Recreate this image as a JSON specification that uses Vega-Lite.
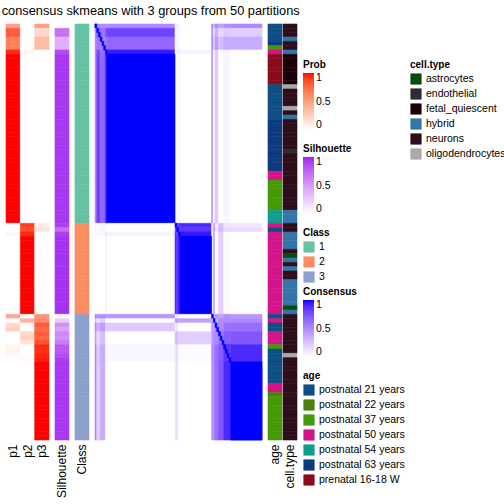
{
"$schema": "https://vega.github.io/schema/vega-lite/v6.json",
"background": "white",
"padding": {"left": 1, "top": 4, "right": 0, "bottom": 0},
"bounds": "flush",
"spacing": 6,
"title": {"text": "consensus skmeans with 3 groups from 50 partitions", "anchor": "start", "dx": -4, "fontSize": 12.8, "fontWeight": "normal", "font": "Liberation Sans", "color": "black", "offset": 6},
"config": {
 "font": "Liberation Sans",
 "view": {"stroke": null},
 "mark": {"strokeWidth": 0.6},
 "axis": {"domain": false, "ticks": false, "tickSize": 0, "grid": false, "labelFontSize": 12, "labelColor": "black", "labelPadding": 4, "labelAngle": -90, "labelFont": "Liberation Sans"},
 "legend": {"labelFont": "Liberation Sans", "titleFont": "Liberation Sans", "labelColor": "black", "titleColor": "black", "titleFontWeight": "bold", "titleFontSize": 10, "labelFontSize": 10.5, "gradientStrokeWidth": 0, "padding": 0, "symbolType": "square", "symbolSize": 110, "symbolStrokeColor": "#cccccc", "symbolStrokeWidth": 1, "rowPadding": 1, "labelOffset": 4, "titlePadding": 3, "gradientLength": 57, "gradientThickness": 11, "labelLimit": 200}
},
"datasets": {
"samples": [
{"i":0,"p1":0.5,"p2":0,"p3":0.5,"Silhouette":0,"Class":"1","age":"postnatal 21 years","celltype":"neurons"},
{"i":1,"p1":0.8,"p2":0,"p3":0.2,"Silhouette":0.7,"Class":"1","age":"postnatal 21 years","celltype":"neurons"},
{"i":2,"p1":0.8,"p2":0,"p3":0.2,"Silhouette":0.7,"Class":"1","age":"postnatal 21 years","celltype":"neurons"},
{"i":3,"p1":0.65,"p2":0,"p3":0.35,"Silhouette":0.4,"Class":"1","age":"postnatal 21 years","celltype":"hybrid"},
{"i":4,"p1":0.65,"p2":0,"p3":0.35,"Silhouette":0.4,"Class":"1","age":"postnatal 63 years","celltype":"neurons"},
{"i":5,"p1":0.65,"p2":0,"p3":0.35,"Silhouette":0.4,"Class":"1","age":"postnatal 37 years","celltype":"neurons"},
{"i":6,"p1":0.95,"p2":0.05,"p3":0,"Silhouette":0.85,"Class":"1","age":"postnatal 50 years","celltype":"hybrid"},
{"i":7,"p1":1,"p2":0,"p3":0,"Silhouette":0.93,"Class":"1","age":"prenatal 16-18 W","celltype":"fetal_quiescent"},
{"i":8,"p1":1,"p2":0,"p3":0,"Silhouette":0.93,"Class":"1","age":"prenatal 16-18 W","celltype":"fetal_quiescent"},
{"i":9,"p1":1,"p2":0,"p3":0,"Silhouette":0.93,"Class":"1","age":"prenatal 16-18 W","celltype":"fetal_quiescent"},
{"i":10,"p1":1,"p2":0,"p3":0,"Silhouette":0.93,"Class":"1","age":"prenatal 16-18 W","celltype":"fetal_quiescent"},
{"i":11,"p1":1,"p2":0,"p3":0,"Silhouette":0.93,"Class":"1","age":"prenatal 16-18 W","celltype":"fetal_quiescent"},
{"i":12,"p1":1,"p2":0,"p3":0,"Silhouette":0.93,"Class":"1","age":"prenatal 16-18 W","celltype":"fetal_quiescent"},
{"i":13,"p1":1,"p2":0,"p3":0,"Silhouette":0.93,"Class":"1","age":"prenatal 16-18 W","celltype":"fetal_quiescent"},
{"i":14,"p1":1,"p2":0,"p3":0,"Silhouette":0.93,"Class":"1","age":"postnatal 21 years","celltype":"oligodendrocytes"},
{"i":15,"p1":1,"p2":0,"p3":0,"Silhouette":0.93,"Class":"1","age":"postnatal 21 years","celltype":"neurons"},
{"i":16,"p1":1,"p2":0,"p3":0,"Silhouette":0.93,"Class":"1","age":"postnatal 21 years","celltype":"neurons"},
{"i":17,"p1":1,"p2":0,"p3":0,"Silhouette":0.93,"Class":"1","age":"postnatal 21 years","celltype":"neurons"},
{"i":18,"p1":1,"p2":0,"p3":0,"Silhouette":0.93,"Class":"1","age":"postnatal 21 years","celltype":"neurons"},
{"i":19,"p1":1,"p2":0,"p3":0,"Silhouette":0.93,"Class":"1","age":"postnatal 21 years","celltype":"oligodendrocytes"},
{"i":20,"p1":1,"p2":0,"p3":0,"Silhouette":0.93,"Class":"1","age":"postnatal 21 years","celltype":"neurons"},
{"i":21,"p1":1,"p2":0,"p3":0,"Silhouette":0.93,"Class":"1","age":"postnatal 21 years","celltype":"hybrid"},
{"i":22,"p1":1,"p2":0,"p3":0,"Silhouette":0.93,"Class":"1","age":"postnatal 63 years","celltype":"neurons"},
{"i":23,"p1":1,"p2":0,"p3":0,"Silhouette":0.93,"Class":"1","age":"postnatal 63 years","celltype":"neurons"},
{"i":24,"p1":1,"p2":0,"p3":0,"Silhouette":0.93,"Class":"1","age":"postnatal 63 years","celltype":"neurons"},
{"i":25,"p1":1,"p2":0,"p3":0,"Silhouette":0.93,"Class":"1","age":"postnatal 63 years","celltype":"neurons"},
{"i":26,"p1":1,"p2":0,"p3":0,"Silhouette":0.93,"Class":"1","age":"postnatal 63 years","celltype":"neurons"},
{"i":27,"p1":1,"p2":0,"p3":0,"Silhouette":0.93,"Class":"1","age":"postnatal 63 years","celltype":"neurons"},
{"i":28,"p1":1,"p2":0,"p3":0,"Silhouette":0.93,"Class":"1","age":"postnatal 63 years","celltype":"neurons"},
{"i":29,"p1":1,"p2":0,"p3":0,"Silhouette":0.93,"Class":"1","age":"postnatal 63 years","celltype":"endothelial"},
{"i":30,"p1":1,"p2":0,"p3":0,"Silhouette":0.93,"Class":"1","age":"postnatal 63 years","celltype":"neurons"},
{"i":31,"p1":1,"p2":0,"p3":0,"Silhouette":0.93,"Class":"1","age":"postnatal 63 years","celltype":"neurons"},
{"i":32,"p1":1,"p2":0,"p3":0,"Silhouette":0.93,"Class":"1","age":"postnatal 63 years","celltype":"neurons"},
{"i":33,"p1":1,"p2":0,"p3":0,"Silhouette":0.93,"Class":"1","age":"postnatal 63 years","celltype":"neurons"},
{"i":34,"p1":1,"p2":0,"p3":0,"Silhouette":0.93,"Class":"1","age":"postnatal 50 years","celltype":"neurons"},
{"i":35,"p1":1,"p2":0,"p3":0,"Silhouette":0.93,"Class":"1","age":"postnatal 50 years","celltype":"neurons"},
{"i":36,"p1":1,"p2":0,"p3":0,"Silhouette":0.93,"Class":"1","age":"postnatal 37 years","celltype":"neurons"},
{"i":37,"p1":1,"p2":0,"p3":0,"Silhouette":0.93,"Class":"1","age":"postnatal 37 years","celltype":"neurons"},
{"i":38,"p1":1,"p2":0,"p3":0,"Silhouette":0.93,"Class":"1","age":"postnatal 37 years","celltype":"neurons"},
{"i":39,"p1":1,"p2":0,"p3":0,"Silhouette":0.93,"Class":"1","age":"postnatal 37 years","celltype":"neurons"},
{"i":40,"p1":1,"p2":0,"p3":0,"Silhouette":0.93,"Class":"1","age":"postnatal 37 years","celltype":"neurons"},
{"i":41,"p1":1,"p2":0,"p3":0,"Silhouette":0.93,"Class":"1","age":"postnatal 37 years","celltype":"neurons"},
{"i":42,"p1":1,"p2":0,"p3":0,"Silhouette":0.93,"Class":"1","age":"postnatal 37 years","celltype":"neurons"},
{"i":43,"p1":1,"p2":0,"p3":0,"Silhouette":0.93,"Class":"1","age":"postnatal 54 years","celltype":"hybrid"},
{"i":44,"p1":1,"p2":0,"p3":0,"Silhouette":0.93,"Class":"1","age":"postnatal 54 years","celltype":"hybrid"},
{"i":45,"p1":1,"p2":0,"p3":0,"Silhouette":0.93,"Class":"1","age":"postnatal 54 years","celltype":"hybrid"},
{"i":46,"p1":0,"p2":0.9,"p3":0.1,"Silhouette":0.9,"Class":"2","age":"postnatal 50 years","celltype":"neurons"},
{"i":47,"p1":0,"p2":0.85,"p3":0.15,"Silhouette":0.7,"Class":"2","age":"postnatal 21 years","celltype":"neurons"},
{"i":48,"p1":0.05,"p2":0.95,"p3":0,"Silhouette":0.9,"Class":"2","age":"postnatal 50 years","celltype":"hybrid"},
{"i":49,"p1":0,"p2":1,"p3":0,"Silhouette":0.95,"Class":"2","age":"postnatal 50 years","celltype":"hybrid"},
{"i":50,"p1":0,"p2":1,"p3":0,"Silhouette":0.95,"Class":"2","age":"postnatal 50 years","celltype":"hybrid"},
{"i":51,"p1":0,"p2":1,"p3":0,"Silhouette":0.95,"Class":"2","age":"postnatal 50 years","celltype":"hybrid"},
{"i":52,"p1":0,"p2":1,"p3":0,"Silhouette":0.95,"Class":"2","age":"postnatal 50 years","celltype":"neurons"},
{"i":53,"p1":0,"p2":1,"p3":0,"Silhouette":0.95,"Class":"2","age":"postnatal 50 years","celltype":"astrocytes"},
{"i":54,"p1":0,"p2":1,"p3":0,"Silhouette":0.95,"Class":"2","age":"postnatal 50 years","celltype":"hybrid"},
{"i":55,"p1":0,"p2":1,"p3":0,"Silhouette":0.95,"Class":"2","age":"postnatal 50 years","celltype":"neurons"},
{"i":56,"p1":0,"p2":1,"p3":0,"Silhouette":0.95,"Class":"2","age":"postnatal 50 years","celltype":"hybrid"},
{"i":57,"p1":0,"p2":1,"p3":0,"Silhouette":0.95,"Class":"2","age":"postnatal 50 years","celltype":"neurons"},
{"i":58,"p1":0,"p2":1,"p3":0,"Silhouette":0.95,"Class":"2","age":"postnatal 50 years","celltype":"neurons"},
{"i":59,"p1":0,"p2":1,"p3":0,"Silhouette":0.95,"Class":"2","age":"postnatal 50 years","celltype":"hybrid"},
{"i":60,"p1":0,"p2":1,"p3":0,"Silhouette":0.95,"Class":"2","age":"postnatal 50 years","celltype":"hybrid"},
{"i":61,"p1":0,"p2":1,"p3":0,"Silhouette":0.95,"Class":"2","age":"postnatal 50 years","celltype":"hybrid"},
{"i":62,"p1":0,"p2":1,"p3":0,"Silhouette":0.95,"Class":"2","age":"postnatal 50 years","celltype":"hybrid"},
{"i":63,"p1":0,"p2":1,"p3":0,"Silhouette":0.95,"Class":"2","age":"postnatal 50 years","celltype":"hybrid"},
{"i":64,"p1":0,"p2":1,"p3":0,"Silhouette":0.95,"Class":"2","age":"postnatal 50 years","celltype":"hybrid"},
{"i":65,"p1":0,"p2":1,"p3":0,"Silhouette":0.95,"Class":"2","age":"postnatal 50 years","celltype":"astrocytes"},
{"i":66,"p1":0,"p2":1,"p3":0,"Silhouette":0.95,"Class":"2","age":"postnatal 50 years","celltype":"hybrid"},
{"i":67,"p1":0.45,"p2":0,"p3":0.55,"Silhouette":0,"Class":"3","age":"postnatal 21 years","celltype":"neurons"},
{"i":68,"p1":0,"p2":0.4,"p3":0.6,"Silhouette":0.25,"Class":"3","age":"postnatal 50 years","celltype":"neurons"},
{"i":69,"p1":0.2,"p2":0,"p3":0.8,"Silhouette":0.55,"Class":"3","age":"postnatal 21 years","celltype":"neurons"},
{"i":70,"p1":0.25,"p2":0,"p3":0.75,"Silhouette":0.45,"Class":"3","age":"postnatal 21 years","celltype":"neurons"},
{"i":71,"p1":0,"p2":0.2,"p3":0.8,"Silhouette":0.6,"Class":"3","age":"postnatal 50 years","celltype":"neurons"},
{"i":72,"p1":0,"p2":0.25,"p3":0.75,"Silhouette":0.55,"Class":"3","age":"postnatal 50 years","celltype":"neurons"},
{"i":73,"p1":0,"p2":0.15,"p3":0.85,"Silhouette":0.65,"Class":"3","age":"postnatal 50 years","celltype":"neurons"},
{"i":74,"p1":0.05,"p2":0,"p3":0.95,"Silhouette":0.8,"Class":"3","age":"postnatal 37 years","celltype":"neurons"},
{"i":75,"p1":0.07,"p2":0,"p3":0.93,"Silhouette":0.8,"Class":"3","age":"postnatal 21 years","celltype":"neurons"},
{"i":76,"p1":0.04,"p2":0,"p3":0.96,"Silhouette":0.85,"Class":"3","age":"postnatal 21 years","celltype":"oligodendrocytes"},
{"i":77,"p1":0,"p2":0.03,"p3":0.97,"Silhouette":0.9,"Class":"3","age":"postnatal 21 years","celltype":"neurons"},
{"i":78,"p1":0,"p2":0,"p3":1,"Silhouette":0.93,"Class":"3","age":"postnatal 21 years","celltype":"neurons"},
{"i":79,"p1":0,"p2":0,"p3":1,"Silhouette":0.93,"Class":"3","age":"postnatal 21 years","celltype":"neurons"},
{"i":80,"p1":0,"p2":0,"p3":1,"Silhouette":0.93,"Class":"3","age":"postnatal 21 years","celltype":"neurons"},
{"i":81,"p1":0,"p2":0,"p3":1,"Silhouette":0.93,"Class":"3","age":"postnatal 21 years","celltype":"neurons"},
{"i":82,"p1":0,"p2":0,"p3":1,"Silhouette":0.93,"Class":"3","age":"postnatal 21 years","celltype":"neurons"},
{"i":83,"p1":0,"p2":0,"p3":1,"Silhouette":0.93,"Class":"3","age":"postnatal 50 years","celltype":"neurons"},
{"i":84,"p1":0,"p2":0,"p3":1,"Silhouette":0.93,"Class":"3","age":"postnatal 50 years","celltype":"neurons"},
{"i":85,"p1":0,"p2":0,"p3":1,"Silhouette":0.93,"Class":"3","age":"postnatal 22 years","celltype":"neurons"},
{"i":86,"p1":0,"p2":0,"p3":1,"Silhouette":0.93,"Class":"3","age":"postnatal 37 years","celltype":"neurons"},
{"i":87,"p1":0,"p2":0,"p3":1,"Silhouette":0.93,"Class":"3","age":"postnatal 37 years","celltype":"neurons"},
{"i":88,"p1":0,"p2":0,"p3":1,"Silhouette":0.93,"Class":"3","age":"postnatal 37 years","celltype":"neurons"},
{"i":89,"p1":0,"p2":0,"p3":1,"Silhouette":0.93,"Class":"3","age":"postnatal 37 years","celltype":"neurons"},
{"i":90,"p1":0,"p2":0,"p3":1,"Silhouette":0.93,"Class":"3","age":"postnatal 37 years","celltype":"neurons"},
{"i":91,"p1":0,"p2":0,"p3":1,"Silhouette":0.93,"Class":"3","age":"postnatal 37 years","celltype":"neurons"},
{"i":92,"p1":0,"p2":0,"p3":1,"Silhouette":0.93,"Class":"3","age":"postnatal 37 years","celltype":"neurons"},
{"i":93,"p1":0,"p2":0,"p3":1,"Silhouette":0.93,"Class":"3","age":"postnatal 37 years","celltype":"neurons"},
{"i":94,"p1":0,"p2":0,"p3":1,"Silhouette":0.93,"Class":"3","age":"postnatal 37 years","celltype":"neurons"},
{"i":95,"p1":0,"p2":0,"p3":1,"Silhouette":0.93,"Class":"3","age":"postnatal 37 years","celltype":"neurons"}
],
"blocks": [
{"a0":0,"a1":1,"b0":0,"b1":1,"v":1},
{"a0":0,"a1":1,"b0":1,"b1":3,"v":0.5},
{"a0":0,"a1":1,"b0":3,"b1":6,"v":0.5},
{"a0":0,"a1":1,"b0":6,"b1":7,"v":0.48},
{"a0":0,"a1":1,"b0":7,"b1":46,"v":0.5},
{"a0":0,"a1":1,"b0":46,"b1":47,"v":0.05},
{"a0":0,"a1":1,"b0":47,"b1":48,"v":0.08},
{"a0":0,"a1":1,"b0":48,"b1":49,"v":0.03},
{"a0":0,"a1":1,"b0":49,"b1":67,"v":0},
{"a0":0,"a1":1,"b0":67,"b1":68,"v":0.5},
{"a0":0,"a1":1,"b0":68,"b1":69,"v":0.3},
{"a0":0,"a1":1,"b0":69,"b1":71,"v":0.5},
{"a0":0,"a1":1,"b0":71,"b1":74,"v":0.4},
{"a0":0,"a1":1,"b0":74,"b1":78,"v":0.49},
{"a0":0,"a1":1,"b0":78,"b1":96,"v":0.5},
{"a0":1,"a1":3,"b0":1,"b1":3,"v":0.68},
{"a0":1,"a1":3,"b0":3,"b1":6,"v":0.59},
{"a0":1,"a1":3,"b0":6,"b1":7,"v":0.76},
{"a0":1,"a1":3,"b0":7,"b1":46,"v":0.8},
{"a0":1,"a1":3,"b0":46,"b1":47,"v":0.02},
{"a0":1,"a1":3,"b0":47,"b1":48,"v":0.03},
{"a0":1,"a1":3,"b0":48,"b1":49,"v":0.04},
{"a0":1,"a1":3,"b0":49,"b1":67,"v":0},
{"a0":1,"a1":3,"b0":67,"b1":68,"v":0.47},
{"a0":1,"a1":3,"b0":68,"b1":69,"v":0.12},
{"a0":1,"a1":3,"b0":69,"b1":71,"v":0.33},
{"a0":1,"a1":3,"b0":71,"b1":74,"v":0.16},
{"a0":1,"a1":3,"b0":74,"b1":78,"v":0.22},
{"a0":1,"a1":3,"b0":78,"b1":96,"v":0.2},
{"a0":3,"a1":6,"b0":3,"b1":6,"v":0.55},
{"a0":3,"a1":6,"b0":6,"b1":7,"v":0.62},
{"a0":3,"a1":6,"b0":7,"b1":46,"v":0.65},
{"a0":3,"a1":6,"b0":46,"b1":47,"v":0.04},
{"a0":3,"a1":6,"b0":47,"b1":48,"v":0.05},
{"a0":3,"a1":6,"b0":48,"b1":49,"v":0.03},
{"a0":3,"a1":6,"b0":49,"b1":67,"v":0},
{"a0":3,"a1":6,"b0":67,"b1":68,"v":0.49},
{"a0":3,"a1":6,"b0":68,"b1":69,"v":0.21},
{"a0":3,"a1":6,"b0":69,"b1":71,"v":0.42},
{"a0":3,"a1":6,"b0":71,"b1":74,"v":0.28},
{"a0":3,"a1":6,"b0":74,"b1":78,"v":0.36},
{"a0":3,"a1":6,"b0":78,"b1":96,"v":0.35},
{"a0":6,"a1":7,"b0":6,"b1":7,"v":1},
{"a0":6,"a1":7,"b0":7,"b1":46,"v":0.95},
{"a0":6,"a1":7,"b0":46,"b1":47,"v":0.05},
{"a0":6,"a1":7,"b0":47,"b1":48,"v":0.04},
{"a0":6,"a1":7,"b0":48,"b1":49,"v":0.1},
{"a0":6,"a1":7,"b0":49,"b1":67,"v":0.05},
{"a0":6,"a1":7,"b0":67,"b1":68,"v":0.43},
{"a0":6,"a1":7,"b0":68,"b1":69,"v":0.02},
{"a0":6,"a1":7,"b0":69,"b1":71,"v":0.21},
{"a0":6,"a1":7,"b0":71,"b1":74,"v":0.01},
{"a0":6,"a1":7,"b0":74,"b1":78,"v":0.04},
{"a0":6,"a1":7,"b0":78,"b1":96,"v":0},
{"a0":7,"a1":46,"b0":7,"b1":46,"v":1},
{"a0":7,"a1":46,"b0":46,"b1":47,"v":0},
{"a0":7,"a1":46,"b0":47,"b1":48,"v":0},
{"a0":7,"a1":46,"b0":48,"b1":49,"v":0.05},
{"a0":7,"a1":46,"b0":49,"b1":67,"v":0},
{"a0":7,"a1":46,"b0":67,"b1":68,"v":0.45},
{"a0":7,"a1":46,"b0":68,"b1":69,"v":0},
{"a0":7,"a1":46,"b0":69,"b1":71,"v":0.22},
{"a0":7,"a1":46,"b0":71,"b1":74,"v":0},
{"a0":7,"a1":46,"b0":74,"b1":78,"v":0.04},
{"a0":7,"a1":46,"b0":78,"b1":96,"v":0},
{"a0":46,"a1":47,"b0":46,"b1":47,"v":1},
{"a0":46,"a1":47,"b0":47,"b1":48,"v":0.78},
{"a0":46,"a1":47,"b0":48,"b1":49,"v":0.86},
{"a0":46,"a1":47,"b0":49,"b1":67,"v":0.9},
{"a0":46,"a1":47,"b0":67,"b1":68,"v":0.06},
{"a0":46,"a1":47,"b0":68,"b1":69,"v":0.42},
{"a0":46,"a1":47,"b0":69,"b1":71,"v":0.08},
{"a0":46,"a1":47,"b0":71,"b1":74,"v":0.26},
{"a0":46,"a1":47,"b0":74,"b1":78,"v":0.11},
{"a0":46,"a1":47,"b0":78,"b1":96,"v":0.1},
{"a0":47,"a1":48,"b0":47,"b1":48,"v":1},
{"a0":47,"a1":48,"b0":48,"b1":49,"v":0.81},
{"a0":47,"a1":48,"b0":49,"b1":67,"v":0.85},
{"a0":47,"a1":48,"b0":67,"b1":68,"v":0.08},
{"a0":47,"a1":48,"b0":68,"b1":69,"v":0.43},
{"a0":47,"a1":48,"b0":69,"b1":71,"v":0.12},
{"a0":47,"a1":48,"b0":71,"b1":74,"v":0.29},
{"a0":47,"a1":48,"b0":74,"b1":78,"v":0.16},
{"a0":47,"a1":48,"b0":78,"b1":96,"v":0.15},
{"a0":48,"a1":49,"b0":48,"b1":49,"v":1},
{"a0":48,"a1":49,"b0":49,"b1":67,"v":0.95},
{"a0":48,"a1":49,"b0":67,"b1":68,"v":0.02},
{"a0":48,"a1":49,"b0":68,"b1":69,"v":0.38},
{"a0":48,"a1":49,"b0":69,"b1":71,"v":0.01},
{"a0":48,"a1":49,"b0":71,"b1":74,"v":0.19},
{"a0":48,"a1":49,"b0":74,"b1":78,"v":0.02},
{"a0":48,"a1":49,"b0":78,"b1":96,"v":0},
{"a0":49,"a1":67,"b0":49,"b1":67,"v":1},
{"a0":49,"a1":67,"b0":67,"b1":68,"v":0},
{"a0":49,"a1":67,"b0":68,"b1":69,"v":0.4},
{"a0":49,"a1":67,"b0":69,"b1":71,"v":0},
{"a0":49,"a1":67,"b0":71,"b1":74,"v":0.2},
{"a0":49,"a1":67,"b0":74,"b1":78,"v":0.02},
{"a0":49,"a1":67,"b0":78,"b1":96,"v":0},
{"a0":67,"a1":68,"b0":67,"b1":68,"v":1},
{"a0":67,"a1":68,"b0":68,"b1":69,"v":0.33},
{"a0":67,"a1":68,"b0":69,"b1":71,"v":0.45},
{"a0":67,"a1":68,"b0":71,"b1":74,"v":0.4},
{"a0":67,"a1":68,"b0":74,"b1":78,"v":0.48},
{"a0":67,"a1":68,"b0":78,"b1":96,"v":0.45},
{"a0":68,"a1":69,"b0":68,"b1":69,"v":1},
{"a0":68,"a1":69,"b0":69,"b1":71,"v":0.35},
{"a0":68,"a1":69,"b0":71,"b1":74,"v":0.5},
{"a0":68,"a1":69,"b0":74,"b1":78,"v":0.5},
{"a0":68,"a1":69,"b0":78,"b1":96,"v":0.5},
{"a0":69,"a1":71,"b0":69,"b1":71,"v":0.55},
{"a0":69,"a1":71,"b0":71,"b1":74,"v":0.5},
{"a0":69,"a1":71,"b0":74,"b1":78,"v":0.62},
{"a0":69,"a1":71,"b0":78,"b1":96,"v":0.62},
{"a0":71,"a1":74,"b0":71,"b1":74,"v":0.6},
{"a0":71,"a1":74,"b0":74,"b1":78,"v":0.7},
{"a0":71,"a1":74,"b0":78,"b1":96,"v":0.72},
{"a0":74,"a1":78,"b0":74,"b1":78,"v":0.85},
{"a0":74,"a1":78,"b0":78,"b1":96,"v":0.9},
{"a0":78,"a1":96,"b0":78,"b1":96,"v":1},
{"a0":1,"a1":2,"b0":1,"b1":2,"v":1},
{"a0":2,"a1":3,"b0":2,"b1":3,"v":1},
{"a0":3,"a1":4,"b0":3,"b1":4,"v":1},
{"a0":4,"a1":5,"b0":4,"b1":5,"v":1},
{"a0":5,"a1":6,"b0":5,"b1":6,"v":1},
{"a0":69,"a1":70,"b0":69,"b1":70,"v":1},
{"a0":70,"a1":71,"b0":70,"b1":71,"v":1},
{"a0":71,"a1":72,"b0":71,"b1":72,"v":1},
{"a0":72,"a1":73,"b0":72,"b1":73,"v":1},
{"a0":73,"a1":74,"b0":73,"b1":74,"v":1},
{"a0":74,"a1":75,"b0":74,"b1":75,"v":1},
{"a0":75,"a1":76,"b0":75,"b1":76,"v":1},
{"a0":76,"a1":77,"b0":76,"b1":77,"v":1},
{"a0":77,"a1":78,"b0":77,"b1":78,"v":1}
]
},
"hconcat": [
{
 "width": 43, "height": 416,
 "data": {"name": "samples"},
 "transform": [{"fold": ["p1", "p2", "p3"], "as": ["col", "prob"]}],
 "mark": {"type": "rect"},
 "encoding": {
  "x": {"field": "col", "type": "nominal", "scale": {"paddingInner": 0, "paddingOuter": 0}, "axis": {"title": null, "orient": "bottom"}},
  "y": {"field": "i", "type": "ordinal", "scale": {"paddingInner": 0, "paddingOuter": 0}, "axis": null},
  "color": {"field": "prob", "type": "quantitative", "scale": {"domain": [0, 1], "range": ["white", "red"], "interpolate": "lab"}, "legend": {"type": "gradient", "format": "~g", "title": "Prob", "orient": "none", "legendX": 297, "legendY": 36, "direction": "vertical", "values": [0, 0.5, 1]}},
  "stroke": {"field": "prob", "type": "quantitative", "scale": {"domain": [0, 1.0001], "range": ["white", "red"], "interpolate": "lab"}, "legend": null}
 }
},
{
 "width": 14, "height": 416,
 "data": {"name": "samples"},
 "transform": [{"fold": ["Silhouette"], "as": ["col", "sil"]}],
 "mark": {"type": "rect"},
 "encoding": {
  "x": {"field": "col", "type": "nominal", "scale": {"paddingInner": 0, "paddingOuter": 0}, "axis": {"title": null, "orient": "bottom"}},
  "y": {"field": "i", "type": "ordinal", "scale": {"paddingInner": 0, "paddingOuter": 0}, "axis": null},
  "color": {"field": "sil", "type": "quantitative", "scale": {"domain": [0, 1], "range": ["white", "#A020F0"], "interpolate": "lab"}, "legend": {"type": "gradient", "format": "~g", "title": "Silhouette", "orient": "none", "legendX": 248, "legendY": 120, "direction": "vertical", "values": [0, 0.5, 1]}},
  "stroke": {"field": "sil", "type": "quantitative", "scale": {"domain": [0, 1.0001], "range": ["white", "#A020F0"], "interpolate": "lab"}, "legend": null}
 }
},
{
 "width": 14, "height": 416,
 "data": {"name": "samples"},
 "transform": [{"fold": ["Class"], "as": ["col", "cls"]}],
 "mark": {"type": "rect"},
 "encoding": {
  "x": {"field": "col", "type": "nominal", "scale": {"paddingInner": 0, "paddingOuter": 0}, "axis": {"title": null, "orient": "bottom"}},
  "y": {"field": "i", "type": "ordinal", "scale": {"paddingInner": 0, "paddingOuter": 0}, "axis": null},
  "color": {"field": "cls", "type": "nominal", "scale": {"domain": ["1", "2", "3"], "range": ["#66C2A5", "#FC8D62", "#8DA0CB"]}, "legend": {"title": "Class", "orient": "none", "legendX": 228, "legendY": 204}},
  "stroke": {"field": "cls", "type": "nominal", "scale": {"domain": ["1", "2", "3"], "range": ["#66C2A5", "#FC8D62", "#8DA0CB"]}, "legend": null}
 }
},
{
 "width": 167, "height": 416,
 "data": {"name": "blocks"},
 "layer": [
  {
   "mark": {"type": "rect"},
   "encoding": {
    "x": {"field": "b0", "type": "quantitative", "scale": {"domain": [0, 96], "nice": false, "zero": false}, "axis": null},
    "x2": {"field": "b1"},
    "y": {"field": "a0", "type": "quantitative", "scale": {"domain": [0, 96], "nice": false, "zero": false, "reverse": true}, "axis": null},
    "y2": {"field": "a1"},
    "color": {"field": "v", "type": "quantitative", "scale": {"domain": [0, 1], "range": ["white", "blue"], "interpolate": "lab"}, "legend": {"type": "gradient", "format": "~g", "title": "Consensus", "orient": "none", "legendX": 208, "legendY": 263, "direction": "vertical", "values": [0, 0.5, 1]}},
    "stroke": {"field": "v", "type": "quantitative", "scale": {"domain": [0, 1.0001], "range": ["white", "blue"], "interpolate": "lab"}, "legend": null}
   }
  },
  {
   "mark": {"type": "rect"},
   "encoding": {
    "x": {"field": "a0", "type": "quantitative"},
    "x2": {"field": "a1"},
    "y": {"field": "b0", "type": "quantitative"},
    "y2": {"field": "b1"},
    "color": {"field": "v", "type": "quantitative"},
    "stroke": {"field": "v", "type": "quantitative"}
   }
  }
 ]
},
{
 "width": 29, "height": 416,
 "data": {"name": "samples"},
 "layer": [
  {
   "mark": {"type": "rect"},
   "encoding": {
    "x": {"datum": "cell.type", "type": "nominal", "scale": {"domain": ["age", "cell.type"], "paddingInner": 0.067, "paddingOuter": 0}, "axis": {"title": null, "orient": "bottom"}},
    "y": {"field": "i", "type": "ordinal", "scale": {"paddingInner": 0, "paddingOuter": 0}, "axis": null},
    "color": {"field": "celltype", "type": "nominal", "scale": {"domain": ["astrocytes", "endothelial", "fetal_quiescent", "hybrid", "neurons", "oligodendrocytes"], "range": ["#0A4D0A", "#2D2D33", "#1C0009", "#3476A8", "#2E0E1A", "#A9A9A9"]}, "legend": {"title": "cell.type", "orient": "none", "legendX": 142, "legendY": 36}},
    "stroke": {"field": "celltype", "type": "nominal", "scale": {"domain": ["astrocytes", "endothelial", "fetal_quiescent", "hybrid", "neurons", "oligodendrocytes"], "range": ["#0A4D0A", "#2D2D33", "#1C0009", "#3476A8", "#2E0E1A", "#A9A9A9"]}, "legend": null}
   }
  },
  {
   "mark": {"type": "rect"},
   "encoding": {
    "x": {"datum": "age", "type": "nominal"},
    "y": {"field": "i", "type": "ordinal"},
    "color": {"field": "age", "type": "nominal", "scale": {"domain": ["postnatal 21 years", "postnatal 22 years", "postnatal 37 years", "postnatal 50 years", "postnatal 54 years", "postnatal 63 years", "prenatal 16-18 W"], "range": ["#0E4F85", "#4E7F0F", "#459A06", "#D41589", "#0E9E8E", "#0D3B7D", "#8B0A1C"]}, "legend": {"title": "age", "orient": "none", "legendX": 35, "legendY": 347}},
    "stroke": {"field": "age", "type": "nominal", "scale": {"domain": ["postnatal 21 years", "postnatal 22 years", "postnatal 37 years", "postnatal 50 years", "postnatal 54 years", "postnatal 63 years", "prenatal 16-18 W"], "range": ["#0E4F85", "#4E7F0F", "#459A06", "#D41589", "#0E9E8E", "#0D3B7D", "#8B0A1C"]}, "legend": null}
   }
  }
 ],
 "resolve": {"scale": {"color": "independent", "stroke": "independent"}}
}
]
}
